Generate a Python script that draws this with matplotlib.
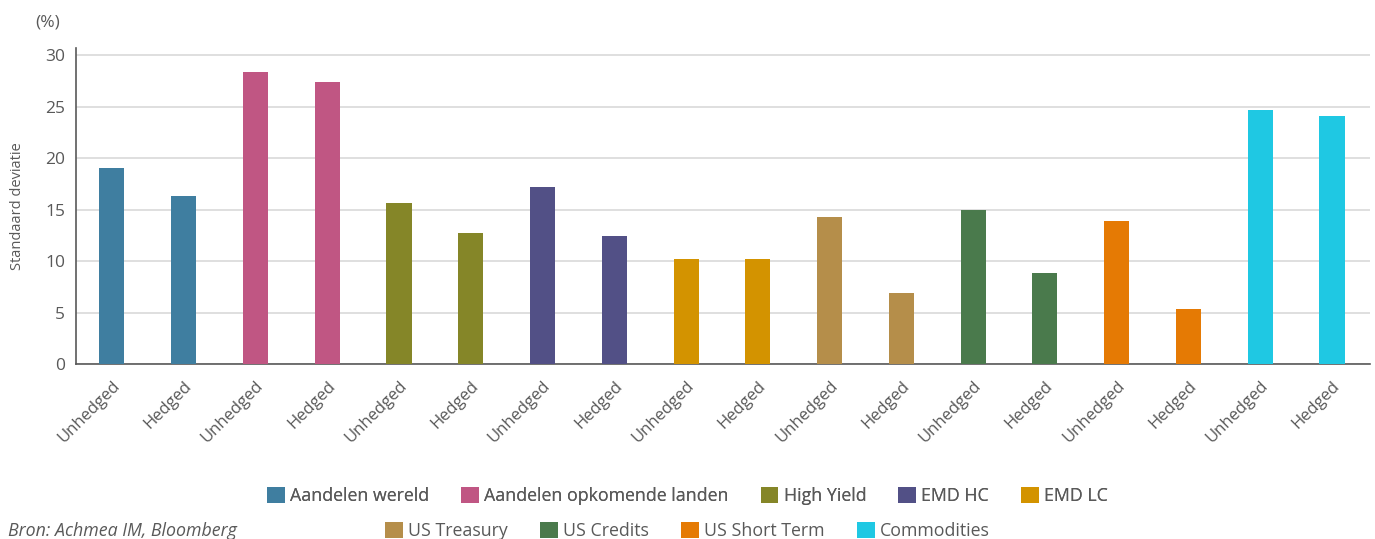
import matplotlib

matplotlib.use("Agg")
import matplotlib.pyplot as plt
from matplotlib.patches import Patch

plt.rcParams["font.family"] = ["Open Sans", "DejaVu Sans"]

TEXT = "#595959"

categories = [
    "Aandelen wereld", "Aandelen opkomende landen", "High Yield", "EMD HC",
    "EMD LC", "US Treasury", "US Credits", "US Short Term", "Commodities",
]
colors = [
    "#3F7EA0", "#C05683", "#858628", "#525086",
    "#D39300", "#B58E4A", "#4A7A4C", "#E57A04", "#1FC8E3",
]
unhedged = [19.0, 28.4, 15.6, 17.2, 10.2, 14.3, 15.0, 13.9, 24.7]
hedged = [16.3, 27.4, 12.7, 12.4, 10.2, 6.9, 8.8, 5.3, 24.1]
tick_labels = ["Unhedged", "Hedged"] * len(categories)

values = []
bar_colors = []
for u, h, c in zip(unhedged, hedged, colors):
    values += [u, h]
    bar_colors += [c, c]

fig = plt.figure(figsize=(13.75, 5.39), dpi=100)
ax = fig.add_axes([0.0553, 0.3247, 0.9411, 0.5863])

x = range(len(values))
ax.bar(x, values, width=0.35, color=bar_colors, zorder=3)

ax.set_xlim(-0.5, len(values) - 0.47)
ax.set_ylim(0, 30.7)
ax.set_yticks([0, 5, 10, 15, 20, 25, 30])
ax.grid(axis="y", color="#d9d9d9", linewidth=1.2, zorder=0)
ax.set_xticks(list(x))
ax.set_xticklabels(tick_labels, rotation=45, ha="right", va="top",
                   rotation_mode="anchor", fontsize=12, color=TEXT)
ax.tick_params(axis="y", length=0, labelsize=12.5, labelcolor=TEXT, pad=8)
ax.tick_params(axis="x", length=0, pad=10)

for side in ("top", "right"):
    ax.spines[side].set_visible(False)
ax.spines["left"].set_color("#595959")
ax.spines["bottom"].set_color("#595959")
ax.spines["left"].set_linewidth(1.2)
ax.spines["bottom"].set_linewidth(1.2)

ax.set_ylabel("Standaard deviatie", fontsize=10.5, color=TEXT, labelpad=14)
fig.text(0.026, 0.958, "(%)", fontsize=12.5, color=TEXT, va="center")

handles = [Patch(facecolor=c, edgecolor="none") for c in colors]
row1 = fig.legend(handles[:5], categories[:5], loc="center", ncol=5,
                  bbox_to_anchor=(0.5, 0.080), frameon=False, fontsize=12.8,
                  handlelength=1.0, handleheight=1.0, handletextpad=0.3,
                  columnspacing=1.8, labelcolor=TEXT)
fig.legend(handles[5:], categories[5:], loc="center", ncol=4,
           bbox_to_anchor=(0.5, 0.015), frameon=False, fontsize=12.8,
           handlelength=1.0, handleheight=1.0, handletextpad=0.3,
           columnspacing=1.8, labelcolor=TEXT)
fig.add_artist(row1)

fig.text(0.006, 0.015, "Bron: Achmea IM, Bloomberg", fontsize=12.8,
         style="italic", color=TEXT, va="center")

fig.savefig("out.png", dpi=100)
